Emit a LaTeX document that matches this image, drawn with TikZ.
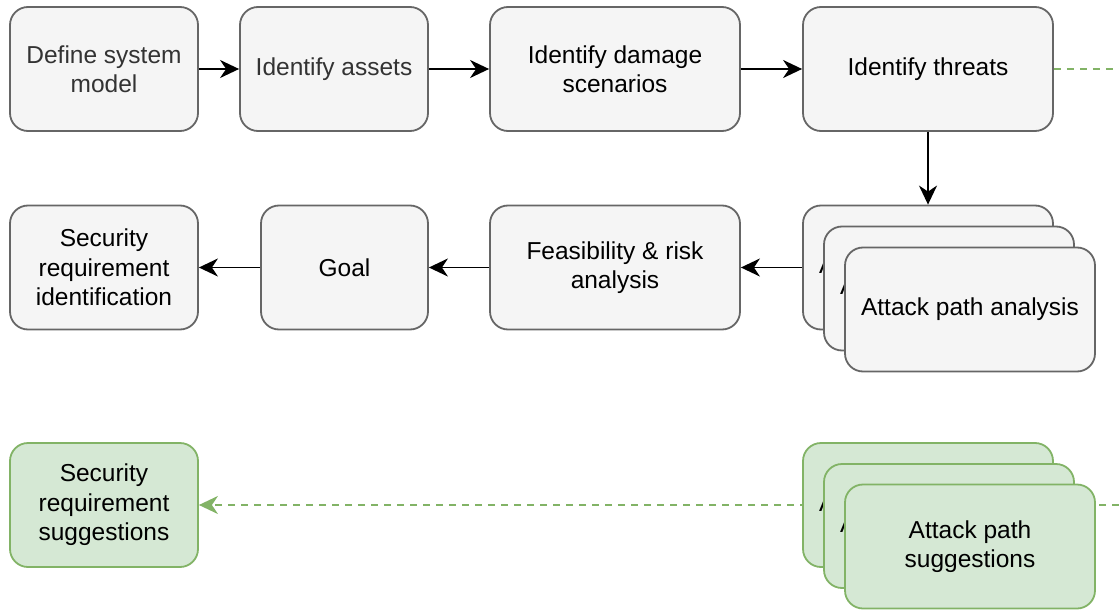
\documentclass[tikz,border=0pt]{standalone}
\usepackage{fontspec}
\setmainfont{Liberation Sans}
\usetikzlibrary{arrows.meta}
\definecolor{greyfill}{HTML}{F5F5F5}
\definecolor{greyline}{HTML}{666666}
\definecolor{greenfill}{HTML}{D5E8D4}
\definecolor{greenline}{HTML}{82B366}
\definecolor{softtext}{HTML}{333333}
\tikzset{
  box/.style={rectangle, rounded corners=18pt, line width=1.8pt, inner sep=0pt,
    align=center, font=\fontsize{24.5}{29.5}\selectfont},
  greybox/.style={box, draw=greyline, fill=greyfill},
  greenbox/.style={box, draw=greenline, fill=greenfill},
  narrow/.style={minimum width=188pt, minimum height=124pt},
  wide/.style={minimum width=250pt, minimum height=124pt},
  flow/.style={line width=1.8pt, -{Stealth[length=19pt,width=18pt,inset=6pt]}},
  hint/.style={line width=1.8pt, draw=greenline, dash pattern=on 7pt off 6pt},
}
\begin{document}
\begin{tikzpicture}[x=1pt,y=-1pt]
\useasboundingbox (0,0) rectangle (1119,610);

% first row: the modelling steps
\node[greybox, narrow, text=softtext] (define) at (104,69) {Define system\\model};
\node[greybox, narrow, text=softtext] (assets) at (334,69) {Identify assets};
\node[greybox, wide] (damage) at (615,69) {Identify damage\\scenarios};
\node[greybox, wide] (threats) at (928,69) {Identify threats};

% second row
\node[greybox, narrow] (secreq) at (104,267.5) {Security\\requirement\\identification};
\node[greybox, minimum width=167pt, minimum height=124pt] (goal) at (344.5,267.5) {Goal};
\node[greybox, wide] (feas) at (615,267.5) {Feasibility \& risk\\analysis};

% stacked attack path analyses
\node[greybox, wide] (apa1) at (928,267.5) {Attack path analysis};
\node[greybox, wide] (apa2) at (949,288.5) {Attack path analysis};
\node[greybox, wide] (apa3) at (970,309.5) {Attack path analysis};

% third row: suggestions
\node[greenbox, narrow] (secsug) at (104,505) {Security\\requirement\\suggestions};

\coordinate (outA) at (1119,69);
\coordinate (outB) at (1119,505);
\draw[hint] (threats.east) -- (outA);
\draw[hint, -{Stealth[length=19pt,width=18pt,inset=6pt]}, greenline] (outB) -- (secsug.east);

\node[greenbox, wide] (aps1) at (928,505) {Attack path analysis};
\node[greenbox, wide] (aps2) at (949,526) {Attack path analysis};
\node[greenbox, wide] (aps3) at (970,546.5) {Attack path\\suggestions};

% main flow
\draw[flow] (define) -- (assets);
\draw[flow] (assets) -- (damage);
\draw[flow] (damage) -- (threats);
\draw[flow] (threats) -- (apa1);
\draw[flow] (apa1.west) -- (feas.east);
\draw[flow] (feas) -- (goal);
\draw[flow] (goal) -- (secreq);
\end{tikzpicture}
\end{document}
